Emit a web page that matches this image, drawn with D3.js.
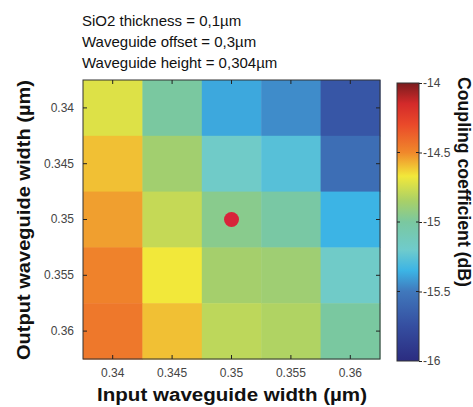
<!DOCTYPE html>
<html>
<head>
<meta charset="utf-8">
<script src="https://cdn.jsdelivr.net/npm/d3@7/dist/d3.min.js"></script>
<style>
	body { margin: 0; background: #fff; }
	text { font-family: "Liberation Sans", Arial, sans-serif; }
</style>
</head>
<body>
<div id="container"></div>
<script>
////////// DATA

var inputWidths = [0.34, 0.345, 0.35, 0.355, 0.36]; // x axis (um)
var outputWidths = [0.34, 0.345, 0.35, 0.355, 0.36]; // y axis (um)
var xTickLabels = ["0.34", "0.345", "0.35", "0.355", "0.36"];
var yTickLabels = ["0.34", "0.345", "0.35", "0.355", "0.36"];

// coupling coefficient (dB), one row per output width
var coupling = [
	[-14.72, -15.00, -15.38, -15.45, -15.70],
	[-14.60, -14.87, -15.18, -15.27, -15.56],
	[-14.54, -14.78, -14.95, -15.02, -15.35],
	[-14.48, -14.67, -14.86, -14.88, -15.18],
	[-14.45, -14.60, -14.80, -14.83, -15.00]
];

var colorTicks = [-14, -14.5, -15, -15.5, -16];
var colorTickLabels = ["-14", "-14.5", "-15", "-15.5", "-16"];
var markedPoint = { x: 0.35, y: 0.35 }; // red dot

var titleLines = ["SiO2 thickness = 0,1µm", "Waveguide offset = 0,3µm", "Waveguide height = 0,304µm"];

////////// DRAWING

var gWidth = 473;
var gHeight = 407;

var plotLeft = 83, plotRight = 380, plotTop = 80, plotBottom = 359;
var barLeft = 397, barRight = 419, barTop = 83, barBottom = 361;

// colormap stops (jet-like, softened)
var stopValues = [-16, -15.75, -15.5, -15.35, -15.2, -15.0, -14.85, -14.67, -14.5, -14.3, -14.15, -14];
var stopColors = ["#2b2c80", "#354ea0", "#4078bc", "#3cb4e5", "#6fcbcc", "#7ac8a0", "#a8d068", "#f2e83a", "#f0882b", "#ea4a2a", "#d42a2a", "#7a1c1e"];
var color = d3.scaleLinear().domain(stopValues).range(stopColors).clamp(true);

var svg = d3.select("#container").append("svg")
	.attr("width", gWidth)
	.attr("height", gHeight);

var x = d3.scaleBand().domain(inputWidths).range([plotLeft, plotRight]).padding(0);
var y = d3.scaleBand().domain(outputWidths).range([plotTop, plotBottom]).padding(0);

// Heatmap cells
outputWidths.forEach(function(ow, r)
{
	svg.selectAll(".cellRow" + r).data(coupling[r]).enter().append("rect")
		.attr("class", "cellRow" + r)
		.attr("x", function(d, c) { return x(inputWidths[c]); })
		.attr("y", y(ow))
		.attr("width", x.bandwidth() + 0.5)
		.attr("height", y.bandwidth() + 0.5)
		.attr("fill", function(d) { return color(d); });
});

// Red dot
svg.append("circle")
	.attr("cx", x(markedPoint.x) + x.bandwidth() / 2)
	.attr("cy", y(markedPoint.y) + y.bandwidth() / 2)
	.attr("r", 7.5)
	.attr("fill", "#d8243a");

// Frame
svg.append("rect")
	.attr("x", plotLeft).attr("y", plotTop)
	.attr("width", plotRight - plotLeft).attr("height", plotBottom - plotTop)
	.attr("fill", "none").attr("stroke", "#333").attr("stroke-width", 1);

// Axes with inward ticks
var xAxis = d3.axisBottom(x).tickSize(-4).tickPadding(9).tickFormat(function(d, i) { return xTickLabels[i]; });
var gx = svg.append("g").attr("transform", "translate(0," + plotBottom + ")").call(xAxis);
gx.select(".domain").remove();
gx.selectAll("text").style("font-size", "12px").attr("fill", "#444").attr("font-family", "Liberation Sans, Arial, sans-serif");
gx.selectAll("line").attr("stroke", "#222");

var gxTop = svg.append("g").attr("transform", "translate(0," + plotTop + ")").call(d3.axisTop(x).tickSize(-4).tickFormat(""));
gxTop.select(".domain").remove();
gxTop.selectAll("line").attr("stroke", "#222");

var yAxis = d3.axisLeft(y).tickSize(-4).tickPadding(9).tickFormat(function(d, i) { return yTickLabels[i]; });
var gy = svg.append("g").attr("transform", "translate(" + plotLeft + ",0)").call(yAxis);
gy.select(".domain").remove();
gy.selectAll("text").style("font-size", "12px").attr("fill", "#444").attr("font-family", "Liberation Sans, Arial, sans-serif");
gy.selectAll("line").attr("stroke", "#222");

var gyRight = svg.append("g").attr("transform", "translate(" + plotRight + ",0)").call(d3.axisRight(y).tickSize(-4).tickFormat(""));
gyRight.select(".domain").remove();
gyRight.selectAll("line").attr("stroke", "#222");

// Title lines
svg.selectAll(".titleLine").data(titleLines).enter().append("text")
	.attr("class", "titleLine")
	.attr("x", 82)
	.attr("y", function(d, i) { return 26 + i * 21; })
	.style("font-size", "15px")
	.attr("fill", "#111")
	.text(function(d) { return d; });

// Axis labels
svg.append("text")
	.attr("x", 232)
	.attr("y", 401)
	.attr("text-anchor", "middle")
	.attr("textLength", 270).attr("lengthAdjust", "spacingAndGlyphs")
	.style("font-size", "18px").style("font-weight", "bold")
	.attr("fill", "#111")
	.text("Input waveguide width (µm)");

svg.append("text")
	.attr("transform", "translate(30," + 220 + ") rotate(-90)")
	.attr("text-anchor", "middle")
	.attr("textLength", 280).attr("lengthAdjust", "spacingAndGlyphs")
	.style("font-size", "19px").style("font-weight", "bold")
	.attr("fill", "#111")
	.text("Output waveguide width (µm)");

// Colorbar
var defs = svg.append("defs");
var grad = defs.append("linearGradient").attr("id", "cbGrad")
	.attr("x1", 0).attr("y1", 1).attr("x2", 0).attr("y2", 0);
var cbScale = d3.scaleLinear().domain([-16, -14]).range([0, 1]);
grad.selectAll("stop").data(stopValues).enter().append("stop")
	.attr("offset", function(d) { return cbScale(d); })
	.attr("stop-color", function(d, i) { return stopColors[i]; });

svg.append("rect")
	.attr("x", barLeft).attr("y", barTop)
	.attr("width", barRight - barLeft).attr("height", barBottom - barTop)
	.attr("fill", "url(#cbGrad)")
	.attr("stroke", "#333").attr("stroke-width", 1);

var cy = d3.scaleLinear().domain([-16, -14]).range([barBottom, barTop]);
var gc = svg.append("g").attr("transform", "translate(" + barRight + ",0)")
	.call(d3.axisRight(cy).tickValues(colorTicks).tickSize(3).tickPadding(1)
		.tickFormat(function(d, i) { return colorTickLabels[i]; }));
gc.select(".domain").remove();
gc.selectAll("text").style("font-size", "12px").attr("fill", "#444").attr("font-family", "Liberation Sans, Arial, sans-serif");
gc.selectAll("line").attr("stroke", "#222");

// inner tick marks on both sides of the colorbar
svg.selectAll(".cbTickL").data(colorTicks.slice(1, 4)).enter().append("line")
	.attr("x1", barLeft).attr("x2", barLeft + 3)
	.attr("y1", function(d) { return cy(d); }).attr("y2", function(d) { return cy(d); })
	.attr("stroke", "#222");
svg.selectAll(".cbTickR").data(colorTicks.slice(1, 4)).enter().append("line")
	.attr("x1", barRight - 3).attr("x2", barRight)
	.attr("y1", function(d) { return cy(d); }).attr("y2", function(d) { return cy(d); })
	.attr("stroke", "#222");

svg.append("text")
	.attr("transform", "translate(458," + 182 + ") rotate(90)")
	.attr("text-anchor", "middle")
	.attr("textLength", 210).attr("lengthAdjust", "spacingAndGlyphs")
	.style("font-size", "18px").style("font-weight", "bold")
	.attr("fill", "#111")
	.text("Coupling coefficient (dB)");
</script>
</body>
</html>
